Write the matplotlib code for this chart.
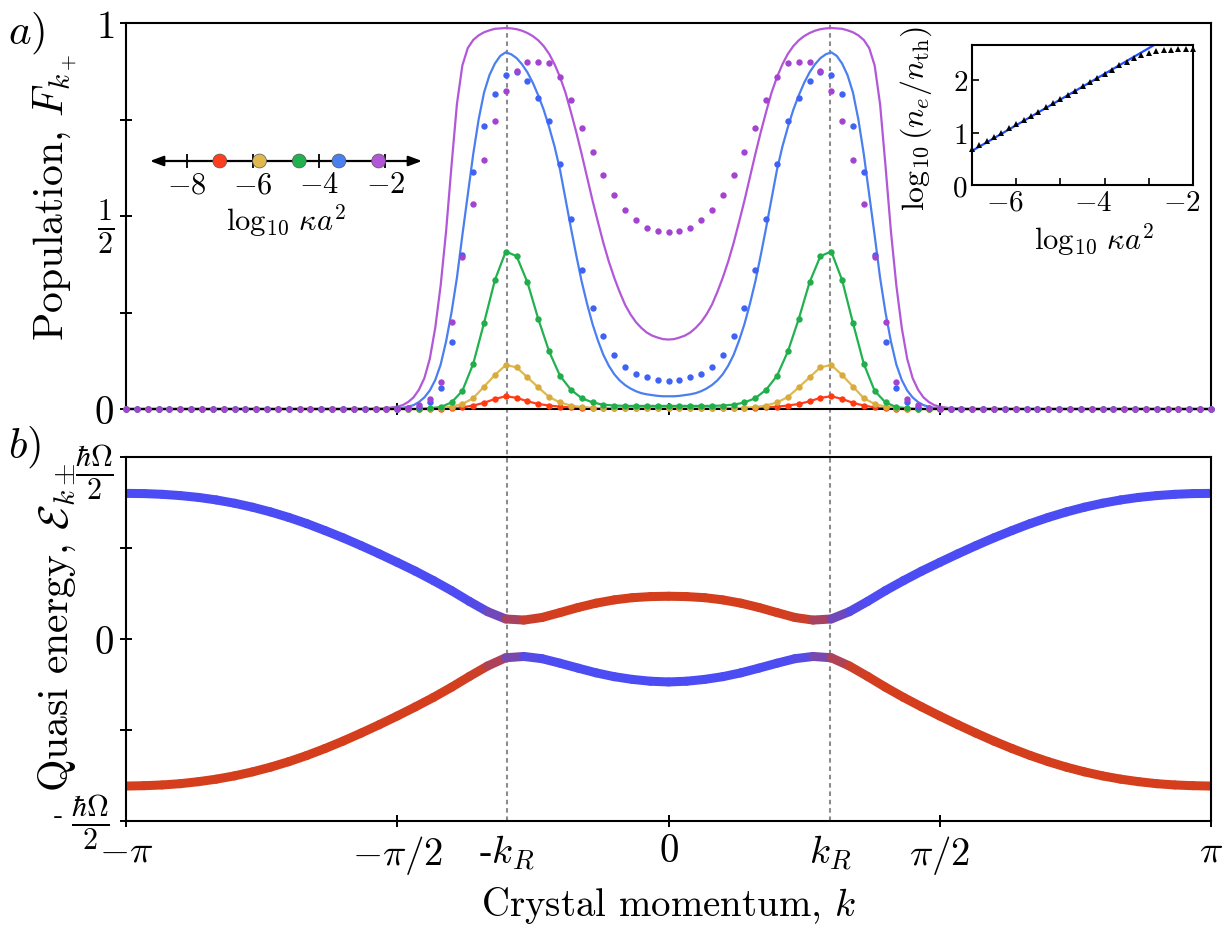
import numpy as np
import matplotlib
matplotlib.use('Agg')
import matplotlib.pyplot as plt
import matplotlib.transforms as mtransforms
from matplotlib.collections import LineCollection
from matplotlib.lines import Line2D

plt.rcParams['font.family'] = 'serif'
plt.rcParams['font.serif'] = ['cmr10']
plt.rcParams['mathtext.fontset'] = 'cm'
plt.rcParams['axes.formatter.use_mathtext'] = True

# crystal momentum grids and resonance
k_R = 0.935
k_pts = np.linspace(-np.pi, np.pi, 101)
k_line = np.concatenate(([-np.pi], np.linspace(-0.56 * np.pi, 0.56 * np.pi, 113), [np.pi]))
k_band = np.linspace(-np.pi, np.pi, 61)

# dissipation strengths (log10 kappa a^2) and colours
log_kappa = [-7.0, -5.8, -4.6, -3.4, -2.2]
colors = ['#ff3d1f', '#e0b850', '#22b14f', '#4a7ff0', '#b257d8']
dot_colors = ['#ff3a10', '#d8ac3c', '#1fae4a', '#3f62f5', '#a443d0']

# population F_{k+}, simulation points
F_red = [0, 0, 0, 0, 0, 0, 0, 0, 0, 0,
         0, 0, 0, 0, 0, 0, 0, 0, 0, 0,
         0, 0, 0, 0, 0, 0, 0, 0, 0, 0,
         0.002, 0.004, 0.009, 0.016, 0.026, 0.033, 0.029, 0.020, 0.013, 0.009,
         0.006, 0.004, 0.003, 0.002, 0.002, 0.002, 0.002, 0.002, 0.002, 0.002,
         0.002, 0.002, 0.002, 0.002, 0.002, 0.002, 0.002, 0.002, 0.003, 0.004,
         0.006, 0.009, 0.013, 0.020, 0.029, 0.033, 0.026, 0.016, 0.009, 0.004,
         0.002, 0, 0, 0, 0, 0, 0, 0, 0, 0,
         0, 0, 0, 0, 0, 0, 0, 0, 0, 0,
         0, 0, 0, 0, 0, 0, 0, 0, 0, 0,
         0]
F_yellow = [0, 0, 0, 0, 0, 0, 0, 0, 0, 0,
            0, 0, 0, 0, 0, 0, 0, 0, 0, 0,
            0, 0, 0, 0, 0, 0, 0, 0, 0, 0.003,
            0.006, 0.013, 0.028, 0.058, 0.088, 0.114, 0.108, 0.082, 0.056, 0.031,
            0.017, 0.009, 0.005, 0.003, 0.002, 0.002, 0.002, 0.002, 0.002, 0.002,
            0.002, 0.002, 0.002, 0.002, 0.002, 0.002, 0.002, 0.003, 0.005, 0.009,
            0.017, 0.031, 0.056, 0.082, 0.108, 0.114, 0.088, 0.058, 0.028, 0.013,
            0.006, 0.003, 0, 0, 0, 0, 0, 0, 0, 0,
            0, 0, 0, 0, 0, 0, 0, 0, 0, 0,
            0, 0, 0, 0, 0, 0, 0, 0, 0, 0,
            0]
F_green = [0, 0, 0, 0, 0, 0, 0, 0, 0, 0,
           0, 0, 0, 0, 0, 0, 0, 0, 0, 0,
           0, 0, 0, 0, 0, 0, 0, 0, 0.002, 0.005,
           0.017, 0.047, 0.117, 0.223, 0.334, 0.408, 0.396, 0.328, 0.233, 0.149,
           0.086, 0.050, 0.028, 0.017, 0.011, 0.009, 0.008, 0.008, 0.008, 0.008,
           0.008, 0.008, 0.008, 0.008, 0.008, 0.009, 0.011, 0.017, 0.028, 0.050,
           0.086, 0.149, 0.233, 0.328, 0.396, 0.408, 0.334, 0.223, 0.117, 0.047,
           0.017, 0.005, 0.002, 0, 0, 0, 0, 0, 0, 0,
           0, 0, 0, 0, 0, 0, 0, 0, 0, 0,
           0, 0, 0, 0, 0, 0, 0, 0, 0, 0,
           0]
F_blue = [0, 0, 0, 0, 0, 0, 0, 0, 0, 0,
          0, 0, 0, 0, 0, 0, 0, 0, 0, 0,
          0, 0, 0, 0, 0, 0, 0.002, 0.006, 0.017, 0.054,
          0.173, 0.400, 0.613, 0.734, 0.816, 0.864, 0.872, 0.851, 0.806, 0.747,
          0.636, 0.492, 0.361, 0.261, 0.190, 0.141, 0.110, 0.091, 0.082, 0.076,
          0.073, 0.076, 0.082, 0.091, 0.110, 0.141, 0.190, 0.261, 0.361, 0.492,
          0.636, 0.747, 0.806, 0.851, 0.872, 0.864, 0.816, 0.734, 0.613, 0.400,
          0.173, 0.054, 0.017, 0.006, 0.002, 0, 0, 0, 0, 0,
          0, 0, 0, 0, 0, 0, 0, 0, 0, 0,
          0, 0, 0, 0, 0, 0, 0, 0, 0, 0,
          0]
F_purple = [0, 0, 0, 0, 0, 0, 0, 0, 0, 0,
            0, 0, 0, 0, 0, 0, 0, 0, 0, 0,
            0, 0, 0, 0, 0, 0, 0.003, 0.010, 0.025, 0.071,
            0.226, 0.395, 0.531, 0.644, 0.745, 0.823, 0.875, 0.898, 0.900, 0.897,
            0.859, 0.800, 0.729, 0.667, 0.607, 0.555, 0.516, 0.490, 0.470, 0.460,
            0.458, 0.460, 0.470, 0.490, 0.516, 0.555, 0.607, 0.667, 0.729, 0.800,
            0.859, 0.897, 0.900, 0.898, 0.875, 0.823, 0.745, 0.644, 0.531, 0.395,
            0.226, 0.071, 0.025, 0.010, 0.003, 0, 0, 0, 0, 0,
            0, 0, 0, 0, 0, 0, 0, 0, 0, 0,
            0, 0, 0, 0, 0, 0, 0, 0, 0, 0,
            0]

# population F_{k+}, analytic curves for the two strongest couplings (on k_line)
L_blue = [0,
          0, 0, 0, 0, 0, 0.001, 0.002, 0.003, 0.006, 0.010,
          0.018, 0.030, 0.048, 0.075, 0.115, 0.175, 0.250, 0.340, 0.450, 0.555,
          0.660, 0.750, 0.820, 0.865, 0.895, 0.915, 0.924, 0.919, 0.909, 0.893,
          0.872, 0.845, 0.812, 0.775, 0.730, 0.680, 0.620, 0.545, 0.470, 0.398,
          0.330, 0.272, 0.220, 0.177, 0.140, 0.112, 0.090, 0.074, 0.062, 0.053,
          0.046, 0.041, 0.038, 0.036, 0.034, 0.033, 0.033,
          0.033, 0.034, 0.036, 0.038, 0.041, 0.046, 0.053, 0.062, 0.074, 0.090,
          0.112, 0.140, 0.177, 0.220, 0.272, 0.330, 0.398, 0.470, 0.545, 0.620,
          0.680, 0.730, 0.775, 0.812, 0.845, 0.872, 0.893, 0.909, 0.919, 0.924,
          0.915, 0.895, 0.865, 0.820, 0.750, 0.660, 0.555, 0.450, 0.340, 0.250,
          0.175, 0.115, 0.075, 0.048, 0.030, 0.018, 0.010, 0.006, 0.003, 0.002,
          0.001, 0, 0, 0, 0, 0,
          0]
L_purple = [0,
            0, 0, 0.001, 0.001, 0.002, 0.004, 0.006, 0.010, 0.018, 0.030,
            0.050, 0.080, 0.130, 0.210, 0.320, 0.460, 0.630, 0.790, 0.890, 0.935,
            0.956, 0.968, 0.976, 0.981, 0.985, 0.986, 0.987, 0.986, 0.984, 0.980,
            0.974, 0.966, 0.955, 0.940, 0.920, 0.893, 0.860, 0.820, 0.770, 0.717,
            0.660, 0.600, 0.540, 0.484, 0.430, 0.382, 0.340, 0.303, 0.270, 0.245,
            0.225, 0.210, 0.198, 0.190, 0.185, 0.181, 0.180,
            0.181, 0.185, 0.190, 0.198, 0.210, 0.225, 0.245, 0.270, 0.303, 0.340,
            0.382, 0.430, 0.484, 0.540, 0.600, 0.660, 0.717, 0.770, 0.820, 0.860,
            0.893, 0.920, 0.940, 0.955, 0.966, 0.974, 0.980, 0.984, 0.986, 0.987,
            0.986, 0.985, 0.981, 0.976, 0.968, 0.956, 0.935, 0.890, 0.790, 0.630,
            0.460, 0.320, 0.210, 0.130, 0.080, 0.050, 0.030, 0.018, 0.010, 0.006,
            0.004, 0.002, 0.001, 0.001, 0, 0,
            0]

# quasi energies in units of hbar*Omega/2
E_plus = [0.800, 0.799, 0.795, 0.788, 0.778, 0.764, 0.746, 0.724, 0.698, 0.668,
          0.634, 0.596, 0.556, 0.513, 0.468, 0.421, 0.373, 0.321, 0.266, 0.206,
          0.150, 0.110, 0.104, 0.118, 0.145, 0.173, 0.197, 0.215, 0.227, 0.233,
          0.235,
          0.233, 0.227, 0.215, 0.197, 0.173, 0.145, 0.118, 0.104, 0.110, 0.150,
          0.206, 0.266, 0.321, 0.373, 0.421, 0.468, 0.513, 0.556, 0.596, 0.634,
          0.668, 0.698, 0.724, 0.746, 0.764, 0.778, 0.788, 0.795, 0.799, 0.800]
E_minus = [-0.808, -0.806, -0.802, -0.795, -0.784, -0.770, -0.752, -0.730, -0.704, -0.674,
           -0.640, -0.602, -0.561, -0.517, -0.471, -0.423, -0.373, -0.321, -0.265, -0.205,
           -0.148, -0.103, -0.096, -0.108, -0.133, -0.160, -0.186, -0.207, -0.222, -0.232,
           -0.236,
           -0.232, -0.222, -0.207, -0.186, -0.160, -0.133, -0.108, -0.096, -0.103, -0.148,
           -0.205, -0.265, -0.321, -0.373, -0.423, -0.471, -0.517, -0.561, -0.602, -0.640,
           -0.674, -0.704, -0.730, -0.752, -0.770, -0.784, -0.795, -0.802, -0.806, -0.808]

# inset: excited population vs dissipation
inset_x = np.linspace(-7, -2, 31)
inset_y = [0.68, 0.76, 0.84, 0.92, 1.00, 1.08, 1.16, 1.24, 1.32, 1.40,
           1.48, 1.56, 1.64, 1.72, 1.80, 1.88, 1.96, 2.04, 2.12, 2.20,
           2.28, 2.35, 2.42, 2.48, 2.52, 2.55, 2.57, 2.58, 2.59, 2.59, 2.59]
fit_x = [-7.0, -2.0]
fit_y = [0.65, 3.10]

band_blue = np.array(matplotlib.colors.to_rgb('#4c4cf4'))
band_red = np.array(matplotlib.colors.to_rgb('#d43e1c'))


def draw_band(ax, k, e, outer_blue):
    pts = np.column_stack([k, e])
    segs = np.stack([pts[:-1], pts[1:]], axis=1)
    km = 0.5 * (k[:-1] + k[1:])
    t = 0.5 * (1 + np.tanh((np.abs(km) - k_R) / 0.12))
    if not outer_blue:
        t = 1 - t
    cols = t[:, None] * band_blue + (1 - t[:, None]) * band_red
    lc = LineCollection(segs, colors=cols, linewidths=6.5, capstyle='round')
    ax.add_collection(lc)


def shift(label, dx, dy):
    label.set_transform(label.get_transform() +
                        mtransforms.ScaledTranslation(dx / 100, dy / 100, fig.dpi_scale_trans))


W, H = 1232, 929
fig = plt.figure(figsize=(W / 100, H / 100), dpi=100)

ax_a = fig.add_axes([126 / W, 1 - 410 / H, 1085 / W, 386 / H])
ax_b = fig.add_axes([126 / W, 1 - 822 / H, 1085 / W, 364 / H])
for ax in (ax_a, ax_b):
    ax.set_facecolor('none')
    ax.set_xlim(-np.pi, np.pi)
    for s in ax.spines.values():
        s.set_linewidth(1.5)
    ax.tick_params(direction='inout', length=9, width=1.4, labelsize=28,
                   top=False, right=False, pad=4)

# panel a: populations
ax_a.set_ylim(0, 1)
for i, F in enumerate([F_red, F_yellow, F_green]):
    ax_a.plot(k_pts, F, color=colors[i], lw=1.6, zorder=2, clip_on=False)
ax_a.plot(k_line, L_blue, color=colors[3], lw=1.6, zorder=2, clip_on=False)
ax_a.plot(k_line, L_purple, color=colors[4], lw=1.6, zorder=2, clip_on=False)
for i, F in enumerate([F_red, F_yellow, F_green, F_blue, F_purple]):
    ax_a.plot(k_pts, F, 'o', ms=4.6, color=dot_colors[i], mew=0,
              zorder=3, clip_on=False)
ax_a.set_yticks([0, 0.25, 0.5, 0.75, 1])
ax_a.set_yticklabels(['$0$', '', r'$\frac{1}{2}$', '', '$1$'])
ax_a.get_yticklabels()[2].set_fontsize(31)
ax_a.set_xticks([-np.pi / 2, 0, np.pi / 2])
ax_a.set_xticklabels([])
ax_a.set_ylabel(r'Population, $F_{k_+}$', fontsize=30)
ax_a.yaxis.set_label_coords(-0.044, 0.55)

# panel b: quasi-energy bands
ax_b.set_ylim(-1, 1)
draw_band(ax_b, k_band, np.array(E_plus), True)
draw_band(ax_b, k_band, np.array(E_minus), False)
ax_b.set_xticks([-np.pi, -np.pi / 2, -k_R, 0, k_R, np.pi / 2, np.pi])
ax_b.set_xticklabels([r'$-\pi$', r'$-\pi/2$', '-$k_R$', '$0$', '$k_R$',
                      r'$\pi/2$', r'$\pi$'])
for idx in (2, 4):
    ax_b.xaxis.get_major_ticks()[idx].tick1line.set_markersize(0)
ax_b.set_yticks([-1, -0.5, 0, 0.5, 1])
ax_b.set_yticklabels([r'$\frac{\hbar\Omega}{2}$', '', '$0$', '',
                      r'$\frac{\hbar\Omega}{2}$'])
ylabs = ax_b.get_yticklabels()
for idx, dx, dy in ((0, -4, 8), (4, 0, -6)):
    ylabs[idx].set_fontsize(31)
    shift(ylabs[idx], dx, dy)
fig.text(58 / W, 1 - 816 / H, '-', fontsize=20, ha='center', va='center')
ax_b.set_ylabel(r'Quasi energy, $\mathcal{E}_{k\pm}$', fontsize=30)
ax_b.yaxis.set_label_coords(-0.044, 0.535)
ax_b.set_xlabel(r'Crystal momentum, $k$', fontsize=28, labelpad=6)

# resonance markers running through both panels
tr = mtransforms.blended_transform_factory(ax_b.transData, fig.transFigure)
for kk in (-k_R, k_R):
    fig.add_artist(Line2D([kk, kk], [1 - 822 / H, 1 - 24 / H], transform=tr,
                          color='#8c8c8c', lw=1.5, ls=(0, (2.2, 1.8)), zorder=-1))

fig.text(8 / W, 1 - 10 / H, '$a)$', fontsize=31, va='top', ha='left')
fig.text(8 / W, 1 - 424 / H, '$b)$', fontsize=31, va='top', ha='left')

# colour key on a number line
ax_n = fig.add_axes([150 / W, 1 - 175 / H, 272 / W, 26 / H])
ax_n.set_facecolor('none')
ax_n.set_xlim(-9.11, -0.89)
ax_n.set_ylim(-1, 1)
for s in ax_n.spines.values():
    s.set_visible(False)
ax_n.spines['bottom'].set_position(('data', 0))
ax_n.set_yticks([])
ax_n.set_xticks([-8, -6, -4, -2])
ax_n.set_xticklabels(['$-8$', '$-6$', '$-4$', '$-2$'])
ax_n.tick_params(axis='x', direction='inout', length=10, width=1.3,
                 labelsize=22, pad=2)
ax_n.annotate('', xy=(-0.89, 0), xytext=(-9.11, 0), annotation_clip=False,
              arrowprops=dict(arrowstyle='<|-|>,head_length=0.8,head_width=0.3',
                              lw=1.6, color='k', shrinkA=0, shrinkB=0))
ax_n.scatter(log_kappa, [0] * 5, s=100, c=colors, edgecolors='#555555',
             linewidths=0.5, zorder=5, clip_on=False)
ax_n.set_xlabel(r'$\log_{10}\,\kappa a^2$', fontsize=22, labelpad=2)

# inset
ax_i = fig.add_axes([972 / W, 1 - 186 / H, 221 / W, 140 / H])
ax_i.plot(fit_x, fit_y, color='#1f4dff', lw=1.6)
ax_i.plot(inset_x, inset_y, '^', color='k', ms=4.5, mew=0, clip_on=False)
ax_i.set_xlim(-7.0, -2.0)
ax_i.set_ylim(0, 2.67)
ax_i.set_xticks([-6, -4, -2])
ax_i.set_xticks([-5, -3], minor=True)
ax_i.set_yticks([0, 1, 2])
ax_i.tick_params(which='both', direction='in', length=5, width=1.2,
                 labelsize=21, pad=3)
for s in ax_i.spines.values():
    s.set_linewidth(1.5)
for lab in ax_i.get_xticklabels():
    shift(lab, -11, 0)
ax_i.set_xlabel(r'$\log_{10}\,\kappa a^2$', fontsize=22, labelpad=1)
ax_i.xaxis.set_label_coords(0.55, -0.25)
ax_i.set_ylabel(r'$\log_{10}(n_e/n_{\rm th})$', fontsize=23, labelpad=3)
ax_i.yaxis.set_label_coords(-0.17, 0.48)

fig.savefig('out.png', dpi=100)
